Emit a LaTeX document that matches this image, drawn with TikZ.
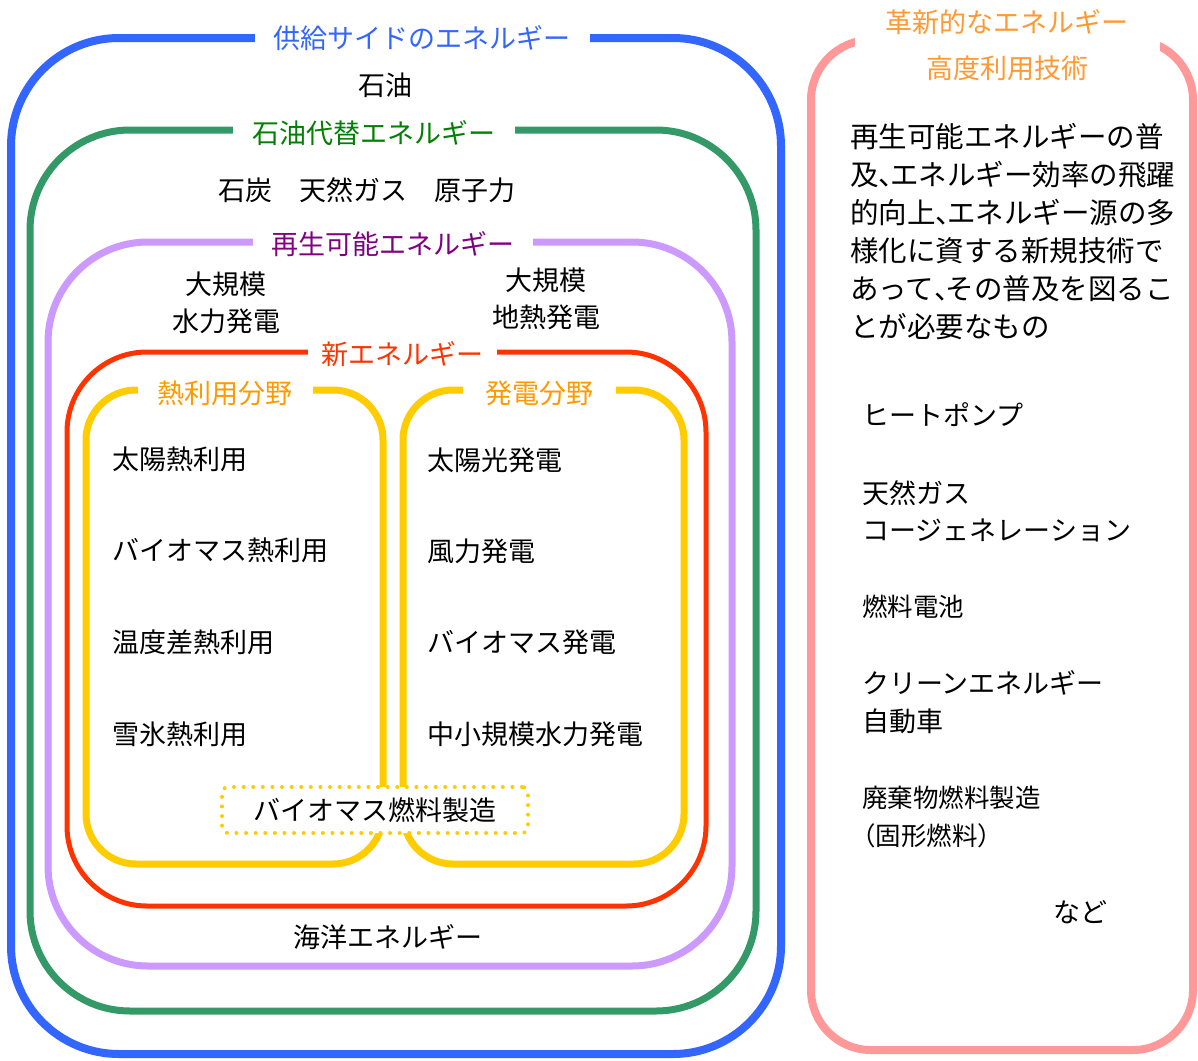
\documentclass[tikz,border=0pt]{standalone}
\usepackage{fontspec}
\setmainfont{Noto Sans CJK JP}
\definecolor{cblue}{HTML}{3366FF}
\definecolor{cgreen}{HTML}{339966}
\definecolor{tgreen}{HTML}{008000}
\definecolor{cpurple}{HTML}{CC99FF}
\definecolor{tpurple}{HTML}{800080}
\definecolor{cred}{HTML}{FF3300}
\definecolor{cyellow}{HTML}{FFCC00}
\definecolor{torange}{HTML}{FF9900}
\definecolor{cpink}{HTML}{FF9999}
\definecolor{tpink}{HTML}{FF9933}
\newcommand{\nten}{\makebox[0.4em][l]{、}}
\begin{document}
\begin{tikzpicture}[x=1pt,y=-1pt,
  ttl/.style={fill=white, inner ysep=2pt, font=\fontsize{27}{30}\selectfont},
  txt/.style={font=\fontsize{27}{37.5}\selectfont, inner sep=0pt, align=left},
  txts/.style={font=\fontsize{25.5}{37.5}\selectfont, inner sep=0pt, align=left},
]
\useasboundingbox (0,0) rectangle (1198,1060);
\fill[white] (0,0) rectangle (1198,1060);

% supply side
\draw[cblue, line width=8pt, rounded corners=108pt] (11,38) rectangle (781,1054);
\node[ttl, text=cblue, minimum width=335pt] (tBlue) at (422,38) {供給サイドのエネルギー};
\node[txt] (oil) at (385,85) {石油};

% oil alternative
\draw[cgreen, line width=7pt, rounded corners=100pt] (30,130) rectangle (756,1011);
\node[ttl, text=tgreen, minimum width=282pt] (tGreen) at (374,133) {石油代替エネルギー};
\node[txt] (coal) at (367,190) {石炭　天然ガス　原子力};

% renewable
\draw[cpurple, line width=7pt, rounded corners=100pt] (48,242) rectangle (732,966);
\node[ttl, text=tpurple, minimum width=280pt] (tPurple) at (393,244) {再生可能エネルギー};
\node[txt, align=center] (hydro) at (226,303) {大規模\\水力発電};
\node[txt, align=center] (geo) at (546,299) {大規模\\地熱発電};
\node[txt] (ocean) at (388,937) {海洋エネルギー};

% new energy
\draw[cred, line width=5pt, rounded corners=80pt] (67,352) rectangle (706,906);
\node[ttl, text=cred, minimum width=189pt] (tRed) at (402,354) {新エネルギー};

% heat / power
\draw[cyellow, line width=7pt, rounded corners=50pt] (86,390) rectangle (383,864);
\draw[cyellow, line width=7pt, rounded corners=50pt] (403,390) rectangle (684,864);
\node[ttl, text=torange, minimum width=175pt] (tHeat) at (225,393) {熱利用分野};
\node[ttl, text=torange, minimum width=153pt] (tPower) at (539,393) {発電分野};

\node[txt, anchor=west] (h1) at (112,459) {太陽熱利用};
\node[txt, anchor=west] (h2) at (112,550) {バイオマス熱利用};
\node[txt, anchor=west] (h3) at (112,642) {温度差熱利用};
\node[txt, anchor=west] (h4) at (112,734) {雪氷熱利用};
\node[txt, anchor=west] (p1) at (427,460) {太陽光発電};
\node[txt, anchor=west] (p2) at (427,551) {風力発電};
\node[txt, anchor=west] (p3) at (427,642) {バイオマス発電};
\node[txt, anchor=west] (p4) at (427,734) {中小規模水力発電};

\node[draw=cyellow, line width=4pt, dash pattern=on 0pt off 9.6pt, line cap=round,
  fill=white, rounded corners=6pt, minimum width=306pt, minimum height=46pt,
  font=\fontsize{27}{30}\selectfont] (bio) at (375,810) {バイオマス燃料製造};

% innovative
\draw[cpink, line width=8pt, rounded corners=60pt] (811,40) rectangle (1193,1050);
\fill[white] (855,28) rectangle (1160,52);
\node[inner sep=0pt, text=tpink, font=\fontsize{27}{30}\selectfont] (tPink1) at (1007,22) {革新的なエネルギー};
\node[inner sep=0pt, text=tpink, font=\fontsize{27}{30}\selectfont] (tPink2) at (1007,68) {高度利用技術};
\node[txt, font=\fontsize{28.5}{38}\selectfont, anchor=west] (desc) at (850,232)
  {再生可能エネルギーの普\\及\nten エネルギー効率の飛躍\\的向上\nten エネルギー源の多\\様化に資する新規技術で\\あって\nten その普及を図るこ\\とが必要なもの};
\node[txt, anchor=west] (r1) at (862,415) {ヒートポンプ};
\node[txt, anchor=west] (r2) at (862,511.5) {天然ガス\\コージェネレーション};
\node[txts, anchor=west] (r3) at (862,607) {燃料電池};
\node[txt, anchor=west] (r4) at (862,702) {クリーンエネルギー\\自動車};
\node[txts, anchor=west] (r5) at (862,817) {廃棄物燃料製造\\\hspace*{-12pt}（固形燃料）};
\node[txt] (r6) at (1080,912) {など};
\end{tikzpicture}
\end{document}
